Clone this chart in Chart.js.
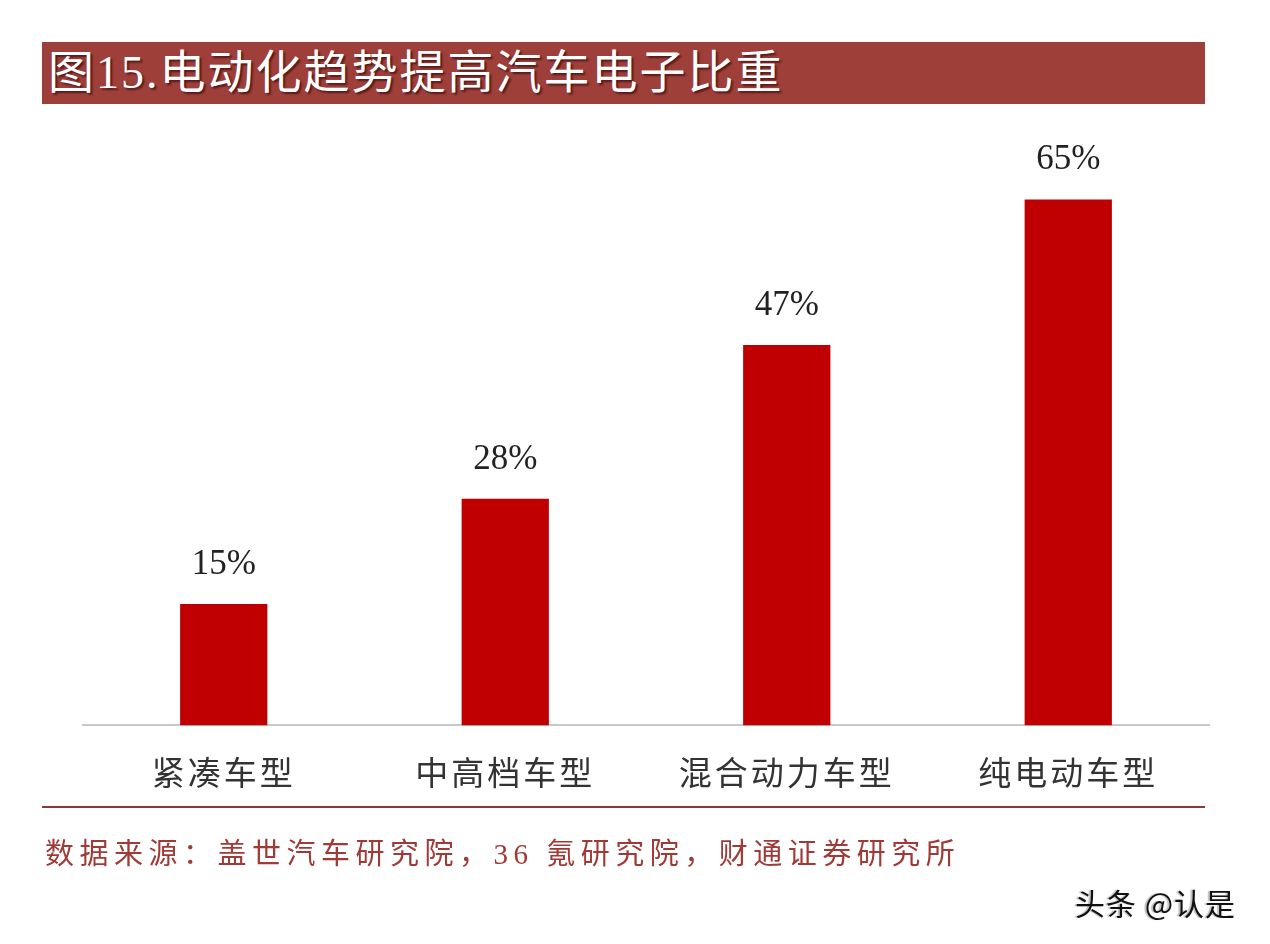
<!DOCTYPE html>
<html>
<head>
<meta charset="utf-8">
<script src="https://cdn.jsdelivr.net/npm/chart.js@4.4.2/dist/chart.umd.min.js"></script>
<style>
  html, body { margin: 0; padding: 0; background: #ffffff; }
  #page { position: relative; width: 1270px; height: 944px; overflow: hidden; }
  #chartBox { position: absolute; left: 0; top: 0; width: 1270px; height: 944px; }
  #title {
    position: absolute; left: 42px; top: 42px; width: 1163px; height: 62px;
    background: #9e3f3a; color: #ffffff;
    font-family: "Liberation Serif", "Noto Sans CJK SC", serif;
    font-size: 46px; line-height: 62px; letter-spacing: 2px;
    padding-left: 6px; box-sizing: border-box; white-space: nowrap;
    text-shadow: 2px 2px 2px rgba(40, 0, 0, 0.6);
  }
  #rule {
    position: absolute; left: 42px; top: 806px; width: 1163px; height: 2px;
    background: #8a3a36;
  }
  #source {
    position: absolute; left: 45px; top: 830px; white-space: nowrap;
    font-family: "Liberation Serif", "Noto Sans CJK SC", serif;
    font-size: 29px; letter-spacing: 5.5px; color: #a03a36;
  }
  #mark {
    position: absolute; left: 1075px; top: 880px; white-space: nowrap;
    font-family: "Noto Sans CJK SC", sans-serif;
    font-size: 30px; color: #111111; letter-spacing: 1px;
    text-shadow: -2px 0 1px rgba(0, 0, 0, 0.25);
  }
</style>
</head>
<body>
<div id="page">
  <div id="chartBox"><canvas id="chart"></canvas></div>
  <div id="title">图15.电动化趋势提高汽车电子比重</div>
  <div id="rule"></div>
  <div id="source">数据来源：盖世汽车研究院，36 氪研究院，财通证券研究所</div>
  <div id="mark">头条 @认是</div>
</div>
<script>
// chart data
const categories = ['紧凑车型', '中高档车型', '混合动力车型', '纯电动车型'];
const shareValues = [15, 28, 47, 65];
const valueLabels = ['15%', '28%', '47%', '65%'];

// spaced-out category labels on the x axis
const letterSpacingPlugin = {
  id: 'letterSpacing',
  beforeDraw(chart) {
    chart.ctx.letterSpacing = '3px';
  },
  afterDraw(chart) {
    chart.ctx.letterSpacing = '0px';
  }
};

// percentage labels above bars
const valueLabelPlugin = {
  id: 'valueLabels',
  afterDatasetsDraw(chart) {
    const ctx = chart.ctx;
    const meta = chart.getDatasetMeta(0);
    ctx.save();
    ctx.letterSpacing = '0px';
    ctx.font = '35px "Liberation Serif", serif';
    ctx.fillStyle = '#222222';
    ctx.textAlign = 'center';
    ctx.textBaseline = 'alphabetic';
    meta.data.forEach((bar, i) => {
      ctx.fillText(valueLabels[i], bar.x, bar.y - 30);
    });
    ctx.restore();
  }
};

const ctx = document.getElementById('chart').getContext('2d');
new Chart(ctx, {
  type: 'bar',
  data: {
    labels: categories,
    datasets: [{
      data: shareValues,
      backgroundColor: '#c00000',
      borderWidth: 0,
      categoryPercentage: 0.31,
      barPercentage: 1
    }]
  },
  options: {
    responsive: true,
    maintainAspectRatio: false,
    animation: false,
    layout: {
      padding: {left: 83, right: 61, top: 159, bottom: 133}
    },
    plugins: {
      legend: {display: false},
      tooltip: {enabled: false}
    },
    scales: {
      x: {
        grid: {display: false},
        border: {color: '#c8c8c8', width: 2},
        ticks: {
          color: '#333333',
          padding: 19,
          font: {family: '"Noto Sans CJK SC", sans-serif', size: 33}
        }
      },
      y: {
        display: false,
        min: 0,
        max: 70
      }
    }
  },
  plugins: [letterSpacingPlugin, valueLabelPlugin]
});
</script>
</body>
</html>
